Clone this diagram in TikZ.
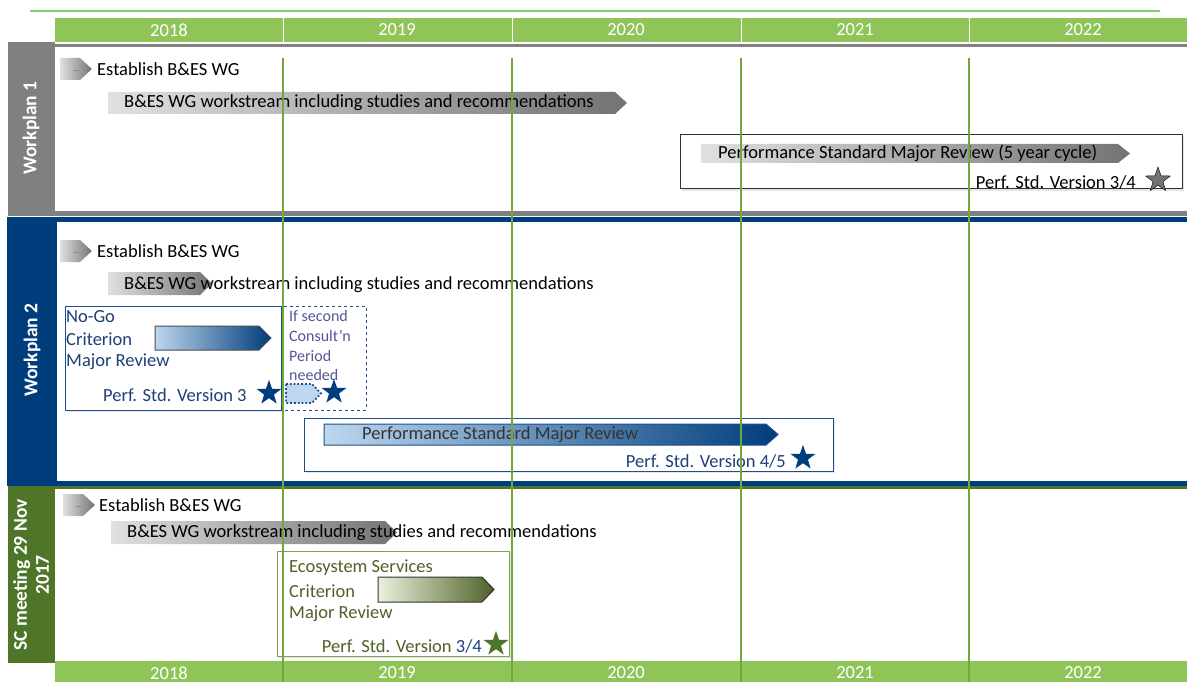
\documentclass[tikz,border=0pt]{standalone}
\usepackage{fontspec}
\setmainfont{Carlito}
\usetikzlibrary{shapes.geometric}
\usetikzlibrary{shadows}

\definecolor{hdrgreen}{RGB}{143,197,88}
\definecolor{topgreen}{RGB}{130,205,110}
\definecolor{vgreen}{RGB}{112,168,58}
\definecolor{wpgray}{RGB}{128,128,128}
\definecolor{wpblue}{RGB}{0,61,124}
\definecolor{boxblue}{RGB}{31,78,140}
\definecolor{txtblue}{RGB}{31,63,120}
\definecolor{ifblue}{RGB}{84,84,150}
\definecolor{lightblue}{RGB}{189,215,238}
\definecolor{scgreen}{RGB}{79,118,40}
\definecolor{ecoborder}{RGB}{130,160,80}
\definecolor{ecotext}{RGB}{79,98,40}
\definecolor{ecolight}{RGB}{235,241,222}

\newcommand{\chevron}[5]{\shadedraw[#1] (#2,#4) -- ({#3-12},#4) -- (#3,{(#4+#5)/2}) -- ({#3-12},#5) -- (#2,#5) -- cycle;}

\tikzset{
  year/.style={text=white, font=\fontsize{18.5}{20}\selectfont},
  lbl/.style={anchor=west, inner sep=0pt, font=\fontsize{18.5}{20}\selectfont},
  small/.style={anchor=west, inner sep=0pt, text=ifblue, font=\fontsize{16}{18}\selectfont},
  sidelbl/.style={rotate=90, text=white, align=center, font=\bfseries\fontsize{19.5}{22}\selectfont},
  starmark/.style={star, star points=5, star point ratio=2.5, inner sep=0pt, minimum size=26pt},
  frame/.style={line width=1pt, fill=white, drop shadow={opacity=0.2, shadow xshift=2pt, shadow yshift=-2pt}},
  graybar/.style={left color=black!12, right color=black!55, draw=none},
  bluebar/.style={left color=lightblue, right color=wpblue, draw=boxblue, line width=1pt},
}

\begin{document}
\begin{tikzpicture}[x=1pt, y=-1pt]
  \useasboundingbox (0,0) rectangle (1187,682);
  % year header, top and bottom
  \draw[topgreen, line width=1.5pt] (30,11) -- (1160,11);
  \fill[hdrgreen] (55,18) rectangle (1187,42);
  \fill[hdrgreen] (55,661) rectangle (1187,682);
  \foreach \x in {283,512,741,969} {
    \draw[white, line width=1pt] (\x,18) -- (\x,42);
    \draw[white, line width=1pt] (\x,661) -- (\x,682);
  }
  \foreach \yr/\x in {2018/169,2019/397,2020/626,2021/855,2022/1083} {
    \node[year] (top\yr) at (\x,30) {\yr};
    \node[year] (bot\yr) at (\x,673) {\yr};
  }

  % workplan 1
  \fill[wpgray] (8,42) rectangle (55,213);
  \fill[wpgray] (55,44) rectangle (1187,47);
  \fill[wpgray] (8,211) rectangle (1187,216);
  \node[sidelbl] (wp1) at (31,128) {Workplan 1};
  \chevron{graybar}{60}{92}{58}{80}
  \draw[black!45] (73,70) -- (79,70);
  \node[lbl] (est1) at (97,69) {Establish B\&ES WG};
  \chevron{graybar}{108}{627}{92}{114}
  \node[lbl] (ws1) at (124,103) {B\&ES WG workstream including studies and recommendations};
  \draw[frame, draw=black!80] (680,135) rectangle (1182,189);
  \chevron{graybar}{701}{1130}{144}{163}
  \node[lbl] (pmr1) at (718,153.5) {Performance Standard Major Review (5 year cycle)};
  \node[lbl, anchor=east] (ver1) at (1136,182) {Perf. Std. Version 3/4};
  \node[starmark, fill=black!55, draw=black] (star1) at (1158,180) {};

  % workplan 2
  \fill[wpblue] (7,217) rectangle (1187,222);
  \fill[wpblue] (7,217) rectangle (57,484);
  \fill[wpblue] (7,481) rectangle (1187,486);
  \node[sidelbl] (wp2) at (32,350) {Workplan 2};
  \chevron{graybar}{60}{92}{240}{262}
  \draw[black!45] (73,252) -- (79,252);
  \node[lbl] (est2) at (97,251) {Establish B\&ES WG};
  \chevron{graybar}{108}{212}{272}{295}
  \node[lbl] (ws2) at (124,285) {B\&ES WG workstream including studies and recommendations};
  \draw[frame, draw=boxblue] (65,306) rectangle (281,410);
  \node[lbl, text=txtblue] (nogo) at (66,317) {No-Go};
  \node[lbl, text=txtblue] (crit) at (66,339) {Criterion};
  \node[lbl, text=txtblue] (major) at (66,362) {Major Review};
  \chevron{bluebar, draw=black!70}{155}{271}{326}{350}
  \node[lbl, text=txtblue] (ver3) at (103,395) {Perf. Std. Version 3};
  \node[starmark, fill=wpblue] (star3) at (269,393) {};
  \draw[dashed, boxblue, line width=1pt] (281,306) rectangle (366,410);
  \node[small] (if1) at (289,316) {If second};
  \node[small] (if2) at (289,336) {Consult’n};
  \node[small] (if3) at (289,356) {Period};
  \node[small] (if4) at (289,375) {needed};
  \filldraw[fill=lightblue, draw=boxblue, dotted, line width=1.8pt] (286,384) -- (312,384) -- (321,393.5) -- (312,403) -- (286,403) -- cycle;
  \node[starmark, fill=wpblue] (star3b) at (334,392) {};
  \draw[frame, draw=boxblue] (304,418) rectangle (833,471);
  \chevron{bluebar}{324}{778}{424}{445}
  \node[lbl, text=black!80] (pmr2) at (362,435) {Performance Standard Major Review};
  \node[lbl, anchor=east, text=txtblue] (ver45) at (786,461) {Perf. Std. Version 4/5};
  \node[starmark, fill=wpblue] (star45) at (803,458) {};

  % SC meeting
  \fill[scgreen] (8,486) rectangle (1187,489);
  \fill[scgreen] (8,487) rectangle (55,663);
  \node[sidelbl] (sc) at (31,575) {SC meeting 29 Nov\\2017};
  \chevron{graybar}{63}{95}{494}{516}
  \draw[black!45] (76,506) -- (82,506);
  \node[lbl] (est3) at (99,505) {Establish B\&ES WG};
  \chevron{graybar}{111}{397}{521}{544}
  \node[lbl] (ws3) at (127,533) {B\&ES WG workstream including studies and recommendations};
  \draw[frame, draw=ecoborder] (277,551) rectangle (509,656);
  \node[lbl, text=ecotext] (eco) at (289,568) {Ecosystem Services};
  \node[lbl, text=ecotext] (crit2) at (289,591) {Criterion};
  \node[lbl, text=ecotext] (major2) at (289,614) {Major Review};
  \chevron{left color=ecolight, right color=ecotext, draw=black!80, line width=1pt}{378}{494}{577}{602}
  \node[lbl, anchor=east, text=ecotext] (ver34) at (482,646) {Perf. Std. Version {\color{txtblue}3/4}};
  \node[starmark, fill=scgreen] (star34) at (496,644) {};

  % year lines
  \foreach \x in {283,512,741,969}
    \draw[vgreen, line width=1.5pt] (\x,58) -- (\x,682);
\end{tikzpicture}
\end{document}
